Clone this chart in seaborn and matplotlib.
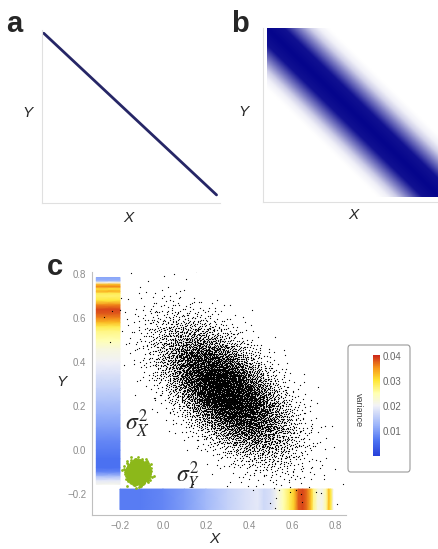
import numpy as np
import pandas as pd
import matplotlib
matplotlib.use("Agg")
import matplotlib.pyplot as plt
import seaborn as sns
from matplotlib.colors import LinearSegmentedColormap, Normalize
from matplotlib.patches import FancyBboxPatch
from matplotlib.cm import ScalarMappable

# ---------------- data ----------------
# panel a: deterministic relation
line_x = [0.0, 1.0]
line_y = [1.0, 0.0]

# panel b: band intensity vs horizontal offset from the anti-diagonal
band_offset = [0.0, 0.10, 0.14, 0.20, 0.25, 0.30, 0.36, 1.5]
band_intensity = [1.0, 0.95, 0.75, 0.45, 0.20, 0.06, 0.0, 0.0]

# panel c: sample cloud (parameters)
cloud_center = [0.29, 0.27]
cloud_sd = [0.15, 0.15]
cloud_corr = -0.60
cloud_n = 9000

# green blob (small sample cloud)
blob_center = [-0.116, -0.10]
blob_sd = [0.021, 0.021]
blob_n = 2000

# variance of X along Y (vertical strip)
varX_y = [0.785, 0.77, 0.762, 0.752, 0.742, 0.732, 0.722, 0.712, 0.70, 0.68, 0.66, 0.64, 0.62,
          0.60, 0.58, 0.56, 0.54, 0.50, 0.46, 0.40, 0.34, 0.28, 0.22, 0.16, 0.10,
          0.04, 0.00, -0.04, -0.08, -0.10, -0.12, -0.14, -0.155]
varX_val = [0.011, 0.012, 0.021, 0.033, 0.036, 0.030, 0.034, 0.029, 0.028, 0.030, 0.036, 0.039, 0.038,
            0.036, 0.033, 0.029, 0.027, 0.025, 0.022, 0.020, 0.018, 0.016, 0.014, 0.012, 0.010,
            0.008, 0.007, 0.006, 0.006, 0.008, 0.014, 0.019, 0.021]

# variance of Y along X (horizontal strip)
varY_x = [-0.20, -0.10, 0.00, 0.10, 0.20, 0.30, 0.38, 0.44, 0.47, 0.50, 0.53, 0.56,
          0.59, 0.61, 0.63, 0.65, 0.67, 0.69, 0.70, 0.72, 0.74, 0.76, 0.77, 0.78, 0.79]
varY_val = [0.007, 0.007, 0.008, 0.010, 0.013, 0.016, 0.018, 0.019, 0.017, 0.018, 0.021, 0.025,
            0.029, 0.032, 0.038, 0.039, 0.037, 0.032, 0.027, 0.022, 0.021, 0.026, 0.033, 0.030, 0.021]

x_ticks = [-0.2, 0.0, 0.2, 0.4, 0.6, 0.8]
y_ticks = [-0.2, 0.0, 0.2, 0.4, 0.6, 0.8]
cbar_ticks = [0.01, 0.02, 0.03, 0.04]

# ---------------- style ----------------
sns.set_theme(style="white")
plt.rcParams['font.family'] = ['Liberation Sans', 'DejaVu Sans']
plt.rcParams['mathtext.fontset'] = 'stix'

W, H = 439, 549
fig = plt.figure(figsize=(W / 100, H / 100), dpi=100)


def px_axes(x0, y0, x1, y1, **kw):
    return fig.add_axes([x0 / W, 1 - y1 / H, (x1 - x0) / W, (y1 - y0) / H], **kw)


def ftext(px, py, s, **kw):
    fig.text(px / W, 1 - py / H, s, **kw)


def halton(n, base):
    res = np.zeros(n)
    i = np.arange(1, n + 1)
    f = 1.0
    while np.any(i > 0):
        f /= base
        res += f * (i % base)
        i = i // base
    return res


def normal_sample(center, sd, corr, n):
    # deterministic low-discrepancy sample of a bivariate normal
    u1 = halton(n, 2)
    u2 = halton(n, 3)
    r = np.sqrt(-2 * np.log(u1))
    z1 = r * np.cos(2 * np.pi * u2)
    z2 = r * np.sin(2 * np.pi * u2)
    x = center[0] + sd[0] * z1
    y = center[1] + sd[1] * (corr * z1 + np.sqrt(1 - corr ** 2) * z2)
    return pd.DataFrame({'x': x, 'y': y})


navy = (0.15, 0.15, 0.40)

# ---------------- panel a ----------------
axa = px_axes(42, 30, 220, 203)
sns.lineplot(x=line_x, y=line_y, ax=axa, color=navy, linewidth=2.0)
axa.set_xlim(-0.01, 1.02)
axa.set_ylim(-0.05, 1.02)
axa.set_xticks([]); axa.set_yticks([])
for s in ['top', 'right']:
    axa.spines[s].set_visible(False)
for s in ['left', 'bottom']:
    axa.spines[s].set_color((0.88, 0.88, 0.88)); axa.spines[s].set_linewidth(0.8)

# ---------------- panel b ----------------
axb = px_axes(263, 28, 439, 202)
g = np.linspace(0, 1, 300)
GX, GY = np.meshgrid(g, g[::-1])
D = np.abs(GX + GY - 1)
I = np.interp(D, band_offset, band_intensity)
bcmap = LinearSegmentedColormap.from_list('band', [(1, 1, 1), (0.02, 0.02, 0.55)])
axb.imshow(I, extent=[0, 1, 0, 1], cmap=bcmap, vmin=0, vmax=1, aspect='auto', interpolation='bilinear')
axb.set_xlim(-0.023, 1.0)
axb.set_ylim(-0.03, 1.0)
axb.set_xticks([]); axb.set_yticks([])
for s in ['top', 'right']:
    axb.spines[s].set_visible(False)
for s in ['left', 'bottom']:
    axb.spines[s].set_color((0.88, 0.88, 0.88)); axb.spines[s].set_linewidth(0.8)

# ---------------- panel c ----------------
vcmap = LinearSegmentedColormap.from_list('var', [
    (0.00, (0.15, 0.25, 0.85)),
    (0.15, (0.30, 0.45, 0.95)),
    (0.30, (0.60, 0.70, 0.98)),
    (0.50, (0.95, 0.95, 0.97)),
    (0.62, (1.00, 1.00, 0.70)),
    (0.75, (1.00, 0.90, 0.20)),
    (0.87, (0.97, 0.60, 0.10)),
    (1.00, (0.80, 0.15, 0.10)),
])
vnorm = Normalize(vmin=0.0, vmax=0.0405)

axc = px_axes(92, 272, 346, 515)

# vertical strip (variance of X)
vy = np.array(varX_y)
VX = np.column_stack([np.full_like(vy, -0.31), np.full_like(vy, -0.20)])
VY = np.column_stack([vy, vy])
VC = np.column_stack([varX_val, varX_val])
axc.pcolormesh(VX, VY, VC, cmap=vcmap, norm=vnorm, shading='gouraud', zorder=1)

# horizontal strip (variance of Y)
hx = np.array(varY_x)
HX = np.vstack([hx, hx])
HY = np.vstack([np.full_like(hx, -0.27), np.full_like(hx, -0.177)])
HC = np.vstack([varY_val, varY_val])
axc.pcolormesh(HX, HY, HC, cmap=vcmap, norm=vnorm, shading='gouraud', zorder=1)

# cloud
df = normal_sample(cloud_center, cloud_sd, cloud_corr, cloud_n)
sns.scatterplot(data=df, x='x', y='y', ax=axc, s=0.8, color='black', linewidth=0, marker='o', zorder=2)

# green blob
bdf = normal_sample(blob_center, blob_sd, 0.0, blob_n)
sns.scatterplot(data=bdf, x='x', y='y', ax=axc, s=4.0, color=(0.55, 0.72, 0.10), linewidth=0, zorder=3)

axc.text(-0.121, 0.118, r'$\sigma_X^2$', fontsize=17, ha='center', va='center', zorder=4)
axc.text(0.116, -0.118, r'$\sigma_Y^2$', fontsize=17, ha='center', va='center', zorder=4)

axc.set_xlim(-0.33, 0.851)
axc.set_ylim(-0.295, 0.81)
axc.set_xticks(x_ticks)
axc.set_yticks(y_ticks)
axc.set_xticklabels([f'{t:.1f}'.replace('-', '\u2212') for t in x_ticks])
axc.set_yticklabels([f'{t:.1f}'.replace('-', '\u2212') for t in y_ticks])
axc.tick_params(axis='both', labelsize=7, labelcolor=(0.55, 0.55, 0.55), length=2,
                color=(0.7, 0.7, 0.7), width=0.6, direction='out', pad=2)
axc.set_xlabel(''); axc.set_ylabel('')
for s in ['top', 'right']:
    axc.spines[s].set_visible(False)
for s in ['left', 'bottom']:
    axc.spines[s].set_color((0.75, 0.75, 0.75)); axc.spines[s].set_linewidth(0.8)

# legend box with colorbar
box = FancyBboxPatch((348 / W, 1 - 472 / H), 62 / W, 127 / H,
                     boxstyle='round,pad=0,rounding_size=0.006', transform=fig.transFigure,
                     facecolor='white', edgecolor=(0.6, 0.6, 0.6), linewidth=0.8, zorder=-1)
fig.patches.append(box)
cax = px_axes(373, 355, 380, 456, zorder=2)
cb = fig.colorbar(ScalarMappable(norm=vnorm, cmap=vcmap), cax=cax, ticks=cbar_ticks)
cb.outline.set_visible(False)
cb.ax.set_yticklabels([f'{t:.2f}' for t in cbar_ticks])
cb.ax.tick_params(labelsize=7, labelcolor=(0.4, 0.4, 0.4), length=0, pad=2)
ftext(358, 410, 'variance', rotation=270, ha='center', va='center', fontsize=6.5, color=(0.25, 0.25, 0.25))

# ---------------- labels ----------------
ftext(6, 32, 'a', fontsize=21, fontweight='bold', ha='left', va='baseline')
ftext(231, 32, 'b', fontsize=21, fontweight='bold', ha='left', va='baseline')
ftext(47, 275, 'c', fontsize=21, fontweight='bold', ha='left', va='baseline')

ftext(27, 113, 'Y', fontsize=11, style='italic', ha='center', va='center')
ftext(128, 218, 'X', fontsize=11, style='italic', ha='center', va='center')
ftext(243, 112, 'Y', fontsize=11, style='italic', ha='center', va='center')
ftext(353, 215, 'X', fontsize=11, style='italic', ha='center', va='center')
ftext(61, 382, 'Y', fontsize=11, style='italic', ha='center', va='center')
ftext(214, 539, 'X', fontsize=11, style='italic', ha='center', va='center')

fig.savefig('out.png', dpi=100)
